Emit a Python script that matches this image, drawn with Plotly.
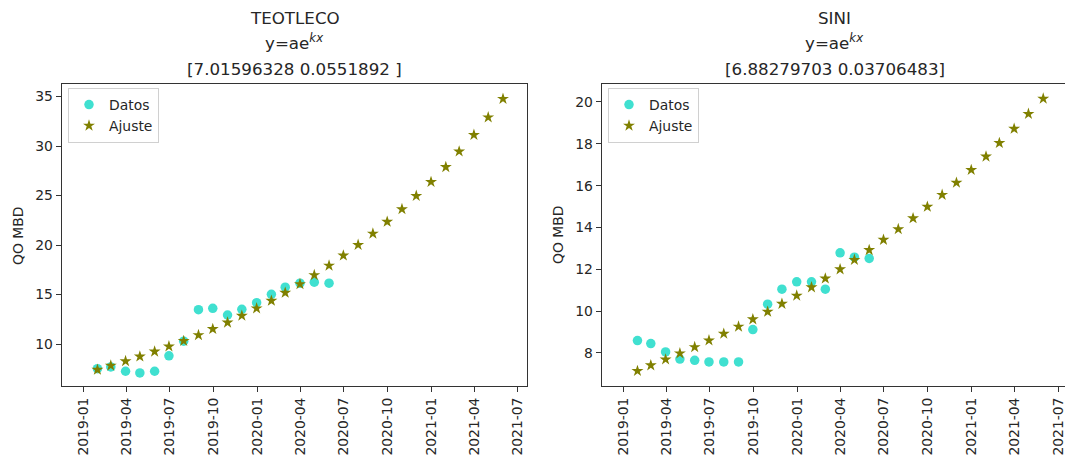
import plotly.graph_objects as go

# ---------------- data ----------------
dates_data = ["2019-01-31", "2019-02-28", "2019-03-31", "2019-04-30", "2019-05-31", "2019-06-30",
              "2019-07-31", "2019-08-31", "2019-09-30", "2019-10-31", "2019-11-30", "2019-12-31",
              "2020-01-31", "2020-02-29", "2020-03-31", "2020-04-30", "2020-05-31"]
dates_fit = dates_data + ["2020-06-30", "2020-07-31", "2020-08-31", "2020-09-30", "2020-10-31",
                          "2020-11-30", "2020-12-31", "2021-01-31", "2021-02-28", "2021-03-31",
                          "2021-04-30", "2021-05-31"]

teo_datos = [7.52, 7.70, 7.26, 7.09, 7.26, 8.82, 10.30, 13.48, 13.62, 12.94, 13.51, 14.19,
             15.03, 15.75, 16.15, 16.26, 16.15]
teo_ajuste = [7.41, 7.83, 8.28, 8.75, 9.25, 9.77, 10.32, 10.91, 11.53, 12.18, 12.87, 13.61,
              14.38, 15.19, 16.06, 16.97, 17.93, 18.95, 20.02, 21.16, 22.36, 23.63, 24.97,
              26.38, 27.88, 29.46, 31.13, 32.90, 34.77]

sini_datos = [8.59, 8.45, 8.05, 7.71, 7.65, 7.57, 7.57, 7.57, 9.12, 10.33, 11.05, 11.40,
              11.40, 11.05, 12.79, 12.58, 12.52]
sini_ajuste = [7.14, 7.41, 7.69, 7.98, 8.28, 8.60, 8.92, 9.26, 9.61, 9.97, 10.35, 10.74,
               11.14, 11.56, 12.00, 12.45, 12.92, 13.41, 13.92, 14.44, 14.99, 15.56, 16.14,
               16.75, 17.39, 18.04, 18.72, 19.43, 20.16]

tick_dates = ["2019-01-01", "2019-04-01", "2019-07-01", "2019-10-01", "2020-01-01", "2020-04-01",
              "2020-07-01", "2020-10-01", "2021-01-01", "2021-04-01", "2021-07-01"]
tick_text = ["2019-01", "2019-04", "2019-07", "2019-10", "2020-01", "2020-04",
             "2020-07", "2020-10", "2021-01", "2021-04", "2021-07"]

titles = [["TEOTLECO", "y=ae<sup><i>kx</i></sup>", "[7.01596328 0.0551892 ]"],
          ["SINI", "y=ae<sup><i>kx</i></sup>", "[6.88279703 0.03706483]"]]

# ---------------- styling ----------------
W, H = 1065, 460
FONT = "DejaVu Sans"
TURQ = "#40E0D0"
OLIVE = "#808000"
TXT = "#262626"

fig = go.Figure()

fig.add_trace(go.Scatter(x=dates_data, y=teo_datos, mode="markers", name="Datos",
                         marker=dict(color=TURQ, size=9.5, line=dict(width=0)),
                         xaxis="x", yaxis="y", legend="legend"))
fig.add_trace(go.Scatter(x=dates_fit, y=teo_ajuste, mode="markers", name="Ajuste",
                         marker=dict(color=OLIVE, size=9, symbol="star", line=dict(width=0)),
                         xaxis="x", yaxis="y", legend="legend"))
fig.add_trace(go.Scatter(x=dates_data, y=sini_datos, mode="markers", name="Datos",
                         marker=dict(color=TURQ, size=9.5, line=dict(width=0)),
                         xaxis="x2", yaxis="y2", legend="legend2"))
fig.add_trace(go.Scatter(x=dates_fit, y=sini_ajuste, mode="markers", name="Ajuste",
                         marker=dict(color=OLIVE, size=9, symbol="star", line=dict(width=0)),
                         xaxis="x2", yaxis="y2", legend="legend2"))

px = lambda p: p / W
py = lambda p: 1 - p / H

x1 = [px(61.7), px(527.3)]
x2 = [px(601.7), 1.0]
ydom = [py(386), py(84)]

axis_common = dict(showgrid=False, zeroline=False, showline=True, mirror=True,
                   linecolor="#333333", linewidth=1, ticks="outside", ticklen=5,
                   tickwidth=1, tickcolor="#333333", ticklabeloverflow="allow",
                   tickfont=dict(family=FONT, size=13.9, color=TXT))

fig.update_layout(
    width=W, height=H,
    margin=dict(l=0, r=0, t=0, b=0),
    paper_bgcolor="white", plot_bgcolor="white",
    font=dict(family=FONT, color=TXT),
    xaxis=dict(domain=x1, anchor="y", type="date",
               range=["2018-11-17", "2021-07-21"],
               tickvals=tick_dates, ticktext=tick_text, tickangle=-90, **axis_common),
    yaxis=dict(domain=ydom, anchor="x", range=[5.77, 36.27],
               tickvals=[10, 15, 20, 25, 30, 35], **axis_common),
    xaxis2=dict(domain=x2, anchor="y2", type="date",
                range=["2018-11-17", "2021-07-15 16:00"],
                tickvals=tick_dates, ticktext=tick_text, tickangle=-90, **axis_common),
    yaxis2=dict(domain=ydom, anchor="x2", range=[6.42, 20.86],
                tickvals=[8, 10, 12, 14, 16, 18, 20], **axis_common),
    legend=dict(x=px(68), y=py(88), xanchor="left", yanchor="top",
                bgcolor="rgba(255,255,255,0.8)", bordercolor="#d0d0d0", borderwidth=1,
                font=dict(family=FONT, size=13.9, color=TXT), itemwidth=30,
                tracegroupgap=0),
    legend2=dict(x=px(608), y=py(88), xanchor="left", yanchor="top",
                 bgcolor="rgba(255,255,255,0.8)", bordercolor="#d0d0d0", borderwidth=1,
                 font=dict(family=FONT, size=13.9, color=TXT), itemwidth=30,
                 tracegroupgap=0),
    showlegend=True,
)

# Titles (three lines each)
centers = [(61.7 + 527.3) / 2, (601.7 + 1067.3) / 2]
line_y = [17.5, 42.5, 69]
for ci, lines in zip(centers, titles):
    for txt, ly in zip(lines, line_y):
        fig.add_annotation(text=txt, x=px(ci), y=py(ly), xref="paper", yref="paper",
                           xanchor="center", yanchor="middle", showarrow=False,
                           font=dict(family=FONT, size=16.7, color=TXT))

# Y-axis labels
for lx in [18, 558]:
    fig.add_annotation(text="QO MBD", x=px(lx), y=py(235), xref="paper", yref="paper",
                       xanchor="center", yanchor="middle", showarrow=False, textangle=-90,
                       font=dict(family=FONT, size=13.9, color=TXT))

fig.write_html("out.html", config={"displayModeBar": False},
               post_script="document.body.style.margin='0';document.body.style.overflow='hidden';")
